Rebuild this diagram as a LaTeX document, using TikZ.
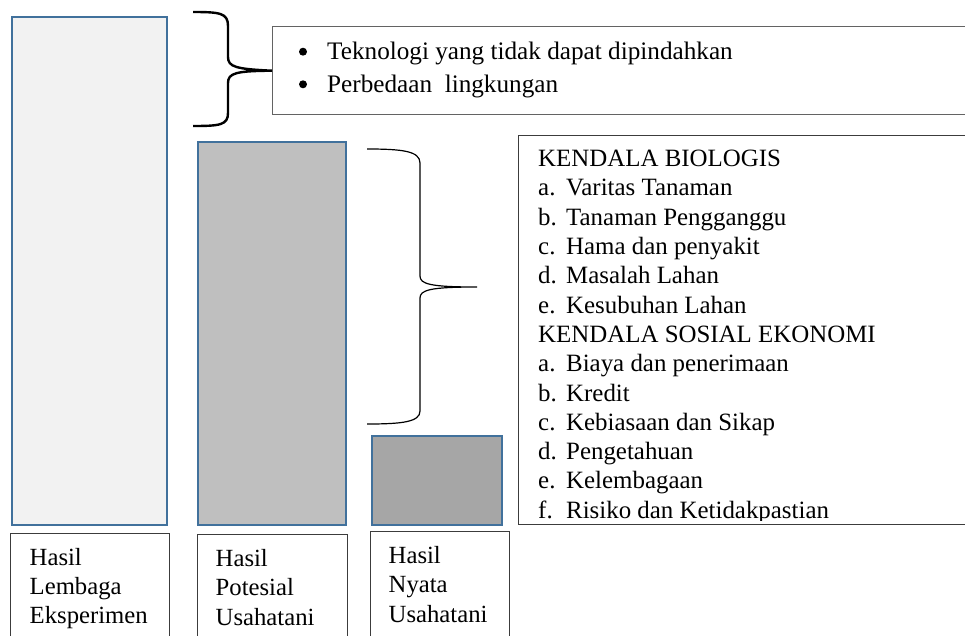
\documentclass[tikz,border=0pt]{standalone}
\usepackage{fontspec}
\setmainfont{Liberation Serif}
\definecolor{garisbatang}{RGB}{65,113,156}
\definecolor{isi1}{RGB}{242,242,242}
\definecolor{isi2}{RGB}{191,191,191}
\definecolor{isi3}{RGB}{166,166,166}
\definecolor{garisbox}{RGB}{60,60,60}
\tikzset{
  x=1pt, y=-1pt,
}
\tikzstyle{batang}=[draw=garisbatang,line width=2.2pt,inner sep=0pt,anchor=north west]
\tikzstyle{kotak}=[draw=garisbox,line width=1.4pt,inner sep=0pt,anchor=north west]
\tikzstyle{hasilbox}=[kotak,align=left,inner xsep=18pt,inner ysep=14.8pt,
  font=\fontsize{24.7}{29.2}\selectfont]
\tikzstyle{teks}=[anchor=north west,inner sep=0pt,align=left,
  font=\fontsize{24.9}{29.3}\selectfont]
\newcommand{\butir}[2]{\makebox[28pt][l]{#1}#2}

\begin{document}
\begin{tikzpicture}
    \useasboundingbox (0,0) rectangle (965,635);
    \clip (0,0) rectangle (965,635);

    % batang hasil
    \node[batang,fill=isi1,minimum width=155pt,minimum height=508pt] (lembaga) at (11,16) {};
    \node[batang,fill=isi2,minimum width=148pt,minimum height=383pt] (potensial) at (197,141) {};
    \node[batang,fill=isi3,minimum width=130pt,minimum height=89pt] (nyata) at (371,435) {};

    % keterangan di bawah batang
    \node[hasilbox,text width=121pt,inner xsep=19pt] (hasil1) at (10,532.5) {Hasil\\Lembaga\\Eksperimen};
    \node[hasilbox,text width=114pt] (hasil2) at (197,534) {Hasil\\Potesial\\Usahatani};
    \node[hasilbox,text width=103pt] (hasil3) at (370,531) {Hasil\\Nyata\\Usahatani};

    % kotak faktor atas
    \node[kotak,draw=garisbox!80,minimum width=720pt,minimum height=88pt] (faktor) at (272,26) {};
    \fill (303,51.7) circle (4);
    \fill (303,84.3) circle (4);
    \node[teks,font=\fontsize{25.2}{32.4}\selectfont] (faktorteks) at (327,42)
    {Teknologi yang tidak dapat dipindahkan\\
     Perbedaan\ \ lingkungan};

    % kotak kendala
    \node[kotak,minimum width=460pt,minimum height=389pt] (kendala) at (518,135) {};
    \begin{scope}
      \clip (518,135) rectangle (965,520);
      \node[teks] (kendalateks) at (538,150)
      {KENDALA BIOLOGIS\\
       \butir{a.}{Varitas Tanaman}\\
       \butir{b.}{Tanaman Pengganggu}\\
       \butir{c.}{Hama dan penyakit}\\
       \butir{d.}{Masalah Lahan}\\
       \butir{e.}{Kesubuhan Lahan}\\
       KENDALA SOSIAL EKONOMI\\
       \butir{a.}{Biaya dan penerimaan}\\
       \butir{b.}{Kredit}\\
       \butir{c.}{Kebiasaan dan Sikap}\\
       \butir{d.}{Pengetahuan}\\
       \butir{e.}{Kelembagaan}\\
       \butir{f.}{Risiko dan Ketidakpastian}};
    \end{scope}

    % kurung kurawal
    \coordinate (kurung1a) at (193,12);
    \coordinate (kurung1b) at (193,126);
    \draw[line width=2.4pt] (kurung1a) .. controls (220,12) and (228,13) .. (228,26)
      -- (228,57) .. controls (228,67) and (236,69) .. (faktor.west)
      .. controls (236,71) and (228,73) .. (228,83)
      -- (228,113) .. controls (228,125) and (220,126) .. (kurung1b);

    \coordinate (kurung2a) at (367,149);
    \coordinate (kurung2b) at (367,424);
    \coordinate (kurung2c) at (477,287);
    \draw[line width=1.2pt] (kurung2a) .. controls (402,149) and (420,151) .. (420,163)
      -- (420,276) .. controls (420,284) and (430,287) .. (kurung2c)
      .. controls (430,287) and (420,290) .. (420,298)
      -- (420,411) .. controls (420,422) and (402,424) .. (kurung2b);
\end{tikzpicture}
\end{document}
